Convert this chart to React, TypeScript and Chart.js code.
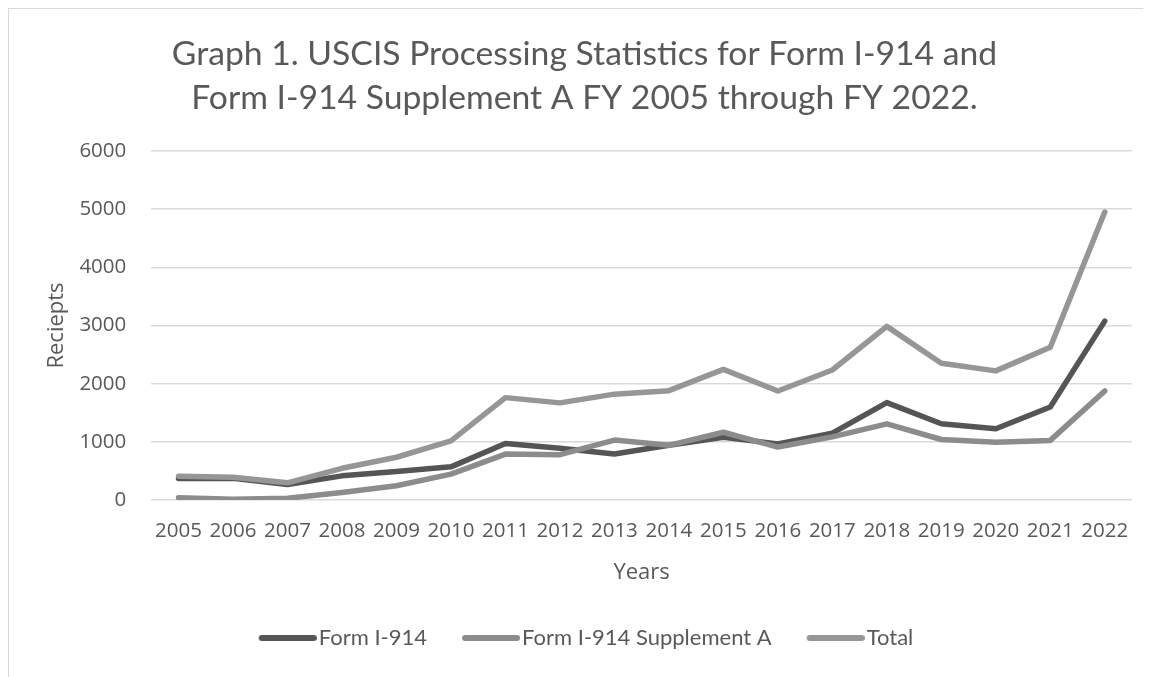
import React, { useEffect, useRef } from "react";
import { Chart, registerables } from "chart.js";

Chart.register(...registerables);

const years = ["2005","2006","2007","2008","2009","2010","2011","2012","2013","2014","2015","2016","2017","2018","2019","2020","2021","2022"];
const formI914 = [370, 375, 265, 415, 490, 570, 970, 890, 790, 940, 1080, 965, 1150, 1675, 1310, 1225, 1600, 3075];
const supplementA = [40, 15, 30, 130, 245, 445, 790, 780, 1030, 940, 1165, 910, 1085, 1310, 1040, 995, 1025, 1875];
const total = [410, 390, 295, 545, 735, 1015, 1760, 1670, 1820, 1880, 2245, 1875, 2235, 2985, 2350, 2220, 2625, 4950];
const titleLines = ["Graph 1. USCIS Processing Statistics for Form I-914 and", "Form I-914 Supplement A FY 2005 through FY 2022."];

const textColor = "#595959";
const legendFontSize = 22;
const legendBoxWidth = 52;

function legendSample(color: string) {
  const hf = legendFontSize / 2;
  const w = Math.round(legendBoxWidth + 2 * hf - 4);
  const c = document.createElement("canvas");
  c.width = w;
  c.height = 8;
  const g = c.getContext("2d")!;
  g.strokeStyle = color;
  g.lineWidth = 6;
  g.lineCap = "round";
  g.beginPath();
  g.moveTo(w - 55, 4);
  g.lineTo(w - 3, 4);
  g.stroke();
  return c;
}

export default function App() {
  const ref = useRef<HTMLCanvasElement>(null);
  useEffect(() => {
    document.body.style.overflow = "hidden";
    const ctx = ref.current!;
    const mk = (label: string, data: number[], color: string, order: number) => ({
      label,
      data,
      borderColor: color,
      backgroundColor: color,
      borderWidth: 5.5,
      pointRadius: 0,
      borderCapStyle: "round" as const,
      borderJoinStyle: "round" as const,
      tension: 0,
      order,
    });
    const chart = new Chart(ctx, {
      type: "line",
      data: {
        labels: years,
        datasets: [
          mk("Form I-914", formI914, "#555555", 3),
          mk("Form I-914 Supplement A", supplementA, "#8c8c8c", 2),
          mk("Total", total, "#969696", 1),
        ],
      },
      options: {
        animation: false,
        responsive: false,
        layout: { padding: { left: 28, right: 19, top: 0, bottom: 18 } },
        plugins: {
          title: {
            display: true,
            text: titleLines,
            color: textColor,
            font: { family: "Lato", size: 33.7, weight: "normal", lineHeight: 1.306 },
            padding: { top: 23, bottom: 31 },
          },
          legend: {
            position: "bottom",
            labels: {
              color: textColor,
              font: { family: "Lato", size: legendFontSize },
              usePointStyle: true,
              pointStyleWidth: legendBoxWidth,
              boxHeight: 8,
              padding: 32,
              generateLabels: (c: any) =>
                c.data.datasets.map((d: any, i: number) => ({
                  text: d.label,
                  fillStyle: d.borderColor,
                  strokeStyle: d.borderColor,
                  pointStyle: legendSample(d.borderColor),
                  lineWidth: 0,
                  hidden: false,
                  datasetIndex: i,
                  fontColor: textColor,
                })),
            },
          },
          tooltip: { enabled: false },
        },
        scales: {
          x: {
            offset: true,
            grid: { display: false, drawTicks: false },
            border: { display: false },
            ticks: { color: textColor, font: { family: "Open Sans", size: 20.5 }, padding: 19, maxRotation: 0, autoSkip: false },
            title: {
              display: true,
              text: "Years",
              color: textColor,
              font: { family: "Open Sans", size: 22 },
              padding: { top: -3, bottom: 9 },
            },
          },
          y: {
            min: 0,
            max: 6000,
            ticks: { stepSize: 1000, color: textColor, font: { family: "Open Sans", size: 20.5 }, padding: 25, callback: (v: any) => String(v) },
            grid: { color: "#d9d9d9", lineWidth: 1.5, drawTicks: false },
            border: { display: false },
            title: {
              display: true,
              text: "Reciepts",
              color: textColor,
              font: { family: "Open Sans", size: 22 },
              padding: { top: 7, bottom: -16 },
            },
          },
        },
      },
    });
    return () => chart.destroy();
  }, []);
  return (
    <div style={{ width: 1143, height: 669, borderLeft: "1px solid #d9d9d9", borderTop: "1px solid #d9d9d9", boxSizing: "border-box" }}>
      <canvas ref={ref} width={1142} height={668} style={{ display: "block" }} />
    </div>
  );
}
